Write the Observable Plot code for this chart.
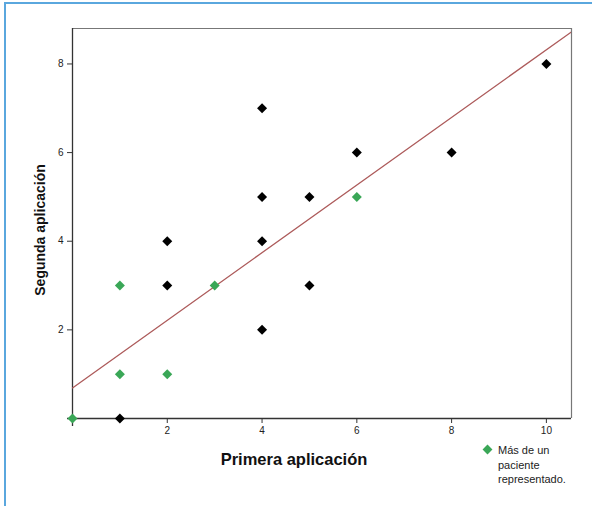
<!DOCTYPE html>
<html>
<head>
<meta charset="utf-8">
<script src="https://cdn.jsdelivr.net/npm/d3@7"></script>
<script src="https://cdn.jsdelivr.net/npm/@observablehq/plot@0.6"></script>
<style>
  html, body { margin: 0; padding: 0; background: #fff; }
  #wrap { position: relative; width: 592px; height: 506px; overflow: hidden; font-family: "Liberation Sans", Arial, sans-serif; }
  #border { position: absolute; left: 4px; top: 2px; width: 600px; height: 520px; border-left: 2px solid #5aa7de; border-top: 2px solid #5aa7de; box-sizing: border-box; }
  #chart { position: absolute; left: 0; top: 0; }
  .xtitle { position: absolute; left: 194px; width: 200px; top: 450px; text-align: center; font-weight: bold; font-size: 16.5px; color: #111; }
  .ytitle { position: absolute; left: 40px; top: 230px; transform: translate(-50%, -50%) rotate(-90deg); white-space: nowrap; font-weight: bold; font-size: 14px; color: #111; }
  #legend { position: absolute; left: 482px; top: 443px; font-size: 11px; line-height: 14.5px; color: #222; }
  #legend .sw { position: absolute; left: 2px; top: 3px; width: 7px; height: 7px; background: #3aa757; transform: rotate(45deg); }
  #legend .tx { margin-left: 16px; }
</style>
</head>
<body>
<div id="wrap">
  <div id="border"></div>
  <div id="chart"></div>
  <div class="xtitle">Primera aplicación</div>
  <div class="ytitle">Segunda aplicación</div>
  <div id="legend"><span class="sw"></span><div class="tx">Más de un<br>paciente<br>representado.</div></div>
</div>
<script>
// single-patient points (black)
const singleX = [1, 2, 2, 4, 4, 4, 4, 5, 5, 6, 8, 10];
const singleY = [0, 4, 3, 7, 5, 4, 2, 5, 3, 6, 6, 8];
// more than one patient represented (green)
const multiX = [0, 1, 1, 2, 3, 6];
const multiY = [0, 3, 1, 1, 3, 5];
// fitted regression line (intercept, slope)
const fitIntercept = 0.69;
const fitSlope = 0.763;
const xTicks = [2, 4, 6, 8, 10];
const yTicks = [2, 4, 6, 8];
const xMax = 10.53, yMax = 8.8;

const single = singleX.map((x, i) => ({x, y: singleY[i]}));
const multi = multiX.map((x, i) => ({x, y: multiY[i]}));
const fit = [0, xMax].map(x => ({x, y: fitIntercept + fitSlope * x}));

const plot = Plot.plot({
  width: 592,
  height: 506,
  marginLeft: 72,
  marginTop: 28,
  marginRight: 21,
  marginBottom: 88,
  style: {fontFamily: "'Liberation Sans', Arial, sans-serif", fontSize: "10px", background: "transparent"},
  x: {domain: [0, xMax]},
  y: {domain: [0, yMax]},
  marks: [
    Plot.ruleY([yMax], {stroke: "#777", strokeWidth: 1.2}),
    Plot.ruleX([xMax], {stroke: "#777", strokeWidth: 1.2}),
    Plot.axisX({ticks: xTicks, tickSize: 5, tickPadding: 3, label: null, stroke: "#333", color: "#222"}),
    Plot.axisY({ticks: yTicks, tickSize: 5, tickPadding: 4, label: null, stroke: "#333", color: "#222"}),
    Plot.ruleY([0], {stroke: "#333", strokeWidth: 1.3, insetLeft: -5}),
    Plot.ruleX([0], {stroke: "#333", strokeWidth: 1.3, insetBottom: -8}),
    Plot.line(fit, {x: "x", y: "y", stroke: "#ad5b5b", strokeWidth: 1.3, clip: true}),
    Plot.dot(single, {x: "x", y: "y", symbol: "diamond2", r: 4.5, fill: "#000", stroke: "none"}),
    Plot.dot(multi, {x: "x", y: "y", symbol: "diamond2", r: 4.5, fill: "#3aa757", stroke: "none"})
  ]
});
document.getElementById("chart").appendChild(plot);
</script>
</body>
</html>
